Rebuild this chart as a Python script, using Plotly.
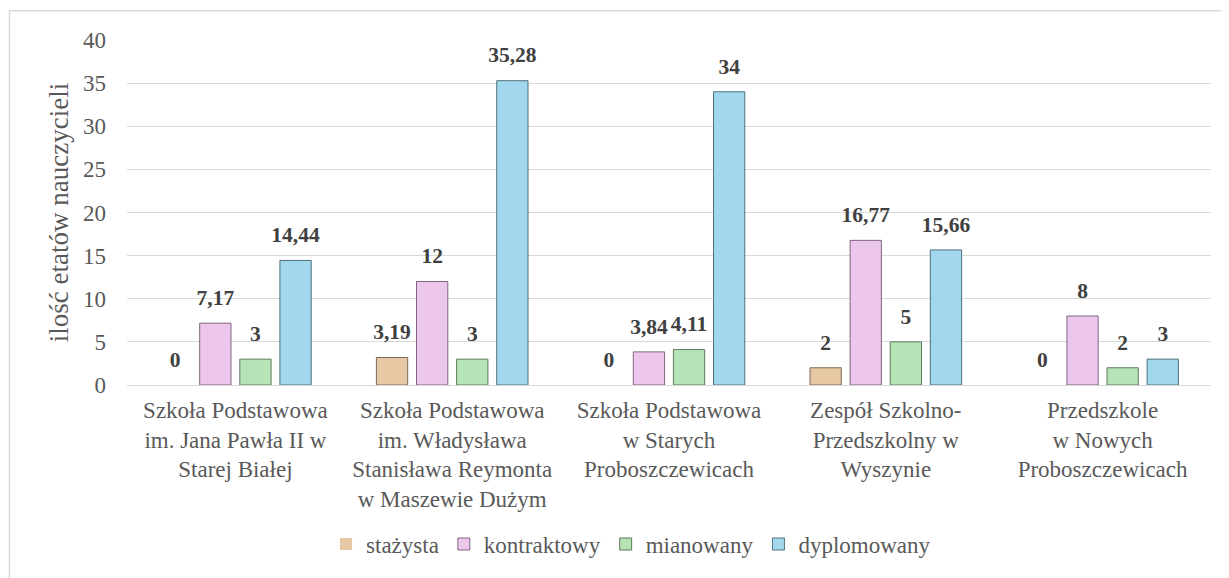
import plotly.graph_objects as go

categories = [
    "Szkoła Podstawowa<br>im. Jana Pawła II w<br>Starej Białej",
    "Szkoła Podstawowa<br>im. Władysława<br>Stanisława Reymonta<br>w Maszewie Dużym",
    "Szkoła Podstawowa<br>w Starych<br>Proboszczewicach",
    "Zespół Szkolno-<br>Przedszkolny w<br>Wyszynie",
    "Przedszkole<br>w Nowych<br>Proboszczewicach",
]
stazysta = [0, 3.19, 0, 2, 0]
kontraktowy = [7.17, 12, 3.84, 16.77, 8]
mianowany = [3, 3, 4.11, 5, 2]
dyplomowany = [14.44, 35.28, 34, 15.66, 3]

series = [
    ("stażysta", stazysta, "#e6c8a4", "#7a6a58"),
    ("kontraktowy", kontraktowy, "#ecc6ec", "#7d687d"),
    ("mianowany", mianowany, "#b6e4b6", "#5f7a5f"),
    ("dyplomowany", dyplomowany, "#a2d8ee", "#4f6f7c"),
]

FONT = "Liberation Serif"

def fmt(v):
    return ("%g" % v).replace(".", ",")

fig = go.Figure()
for name, vals, col, edge in series:
    fig.add_trace(go.Bar(
        name=name, x=categories, y=vals, offsetgroup=name,
        marker=dict(color=col, line=dict(color=edge, width=[0 if v == 0 else 1 for v in vals])),
        hoverinfo="skip",
    ))
for name, vals, col, edge in series:
    fig.add_trace(go.Scatter(
        x=categories, y=vals, offsetgroup=name, mode="markers+text",
        marker=dict(size=19, color="rgba(0,0,0,0)"),
        text=["<b>" + fmt(v) + "</b>" for v in vals],
        textposition="top center",
        textfont=dict(family=FONT, size=21.5, color="#404040"),
        showlegend=False, cliponaxis=False, hoverinfo="skip",
    ))

# body has an 8px default margin in the page
L, R, T, B = 119, 18, 32, 191
W, H = 1221, 570
pw, ph = W - L - R, H - T - B

fig.update_layout(
    width=W, height=H,
    margin=dict(l=L, r=R, t=T, b=B),
    barmode="group", bargap=0.26, bargroupgap=0.22,
    scattermode="group", scattergap=0.26,
    plot_bgcolor="white", paper_bgcolor="white",
    font=dict(family=FONT, size=23, color="#595959"),
    showlegend=True,
    legend=dict(orientation="h", x=0.465, xanchor="center", y=-0.461, yanchor="middle",
                font=dict(family=FONT, size=23, color="#595959"),
                itemwidth=30, traceorder="normal"),
)
fig.update_xaxes(showgrid=False, showline=True, linecolor="#d9d9d9", linewidth=1,
                 ticks="", tickfont=dict(family=FONT, size=23, color="#595959"),
                 ticklabelstandoff=4)
fig.update_yaxes(range=[0, 40], dtick=5, showgrid=True, gridcolor="#d9d9d9", gridwidth=1.3,
                 zeroline=True, zerolinecolor="#d9d9d9", zerolinewidth=1.3,
                 showline=False, ticks="",
                 tickfont=dict(family=FONT, size=23, color="#595959"),
                 ticklabelstandoff=20,
                 title=dict(text="ilość etatów nauczycieli", font=dict(family=FONT, size=27, color="#595959"),
                            standoff=6))

# outer chart border
fig.add_shape(type="rect", xref="paper", yref="paper",
              x0=(1.5 - L) / pw, x1=(W + 20 - L) / pw,
              y0=-(H + 20 - (T + ph)) / ph, y1=(T + ph - 2.5) / ph,
              line=dict(color="#d9d9d9", width=1.5), fillcolor="rgba(0,0,0,0)", layer="below")

fig.write_html("out.html")
